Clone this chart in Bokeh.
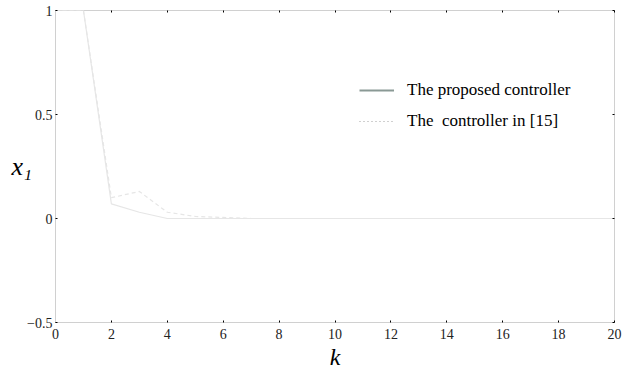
from bokeh.plotting import figure
from bokeh.models import Range1d, LinearAxis, Legend, LegendItem, FixedTicker, ColumnDataSource
from bokeh.embed import file_html
from bokeh.resources import INLINE

k = list(range(0, 21))
proposed = [1, 1, 0.07, 0.03, 0.0] + [0.0] * 16
ref15 = [1, 1, 0.10, 0.13, 0.03, 0.01, 0.005] + [0.0] * 14

legend_labels = ["The proposed controller", "The  controller in [15]"]
x_ticks = list(range(0, 21, 2))
y_ticks = [-0.5, 0, 0.5, 1]

SERIF = "Liberation Serif"
NARROW = "Liberation Sans Narrow"

p = figure(width=624, height=372, output_backend="svg", toolbar_location=None,
           x_range=Range1d(0, 20), y_range=Range1d(-0.5, 1),
           min_border_left=55, min_border_right=10, min_border_top=10, min_border_bottom=47)
p.outline_line_color = "#d0d0d0"
p.xgrid.visible = False
p.ygrid.visible = False
p.background_fill_color = "white"

line_col = "#e6e6e6"
r1 = p.line(k, proposed, line_color=line_col, line_width=1.2)
r2 = p.line(k, ref15, line_color=line_col, line_width=1.2, line_dash="4 3")

nan = float("nan")
src = ColumnDataSource(dict(x=[nan, nan], y=[nan, nan]))
l1 = p.line("x", "y", source=src, line_color="#8a9995", line_width=2)
l2 = p.line("x", "y", source=src, line_color="#a0a0a0", line_width=1, line_dash="1 3")

for ax in (p.xaxis[0], p.yaxis[0]):
    ax.axis_line_color = "#d0d0d0"
    ax.major_tick_in = 2
    ax.major_tick_out = 0
    ax.major_tick_line_color = "black"
    ax.minor_tick_line_color = None
    ax.major_label_text_font = NARROW
    ax.major_label_text_font_size = "14px"
    ax.major_label_text_color = "#222222"
    ax.axis_label_text_font = SERIF
    ax.axis_label_text_font_style = "italic"
    ax.axis_label_text_color = "black"

p.xaxis.ticker = FixedTicker(ticks=x_ticks)
p.yaxis.ticker = FixedTicker(ticks=y_ticks)
p.xaxis.major_label_standoff = 6
p.yaxis.major_label_standoff = 3
p.xaxis.axis_label = "k"
p.xaxis.axis_label_text_font_size = "24px"
p.xaxis.axis_label_standoff = 2
p.yaxis.axis_label = "x\u2081"
p.yaxis.axis_label_text_font_size = "26px"
p.yaxis.axis_label_orientation = "horizontal"
p.yaxis.axis_label_standoff = -8

for loc, tk in (("above", x_ticks), ("right", y_ticks)):
    ax = LinearAxis(ticker=FixedTicker(ticks=tk),
                    major_label_overrides={t: "" for t in tk},
                    axis_line_color=None, major_tick_in=2, major_tick_out=0,
                    major_tick_line_color="black", minor_tick_line_color=None,
                    major_label_standoff=0)
    p.add_layout(ax, loc)

legend = Legend(items=[LegendItem(label=legend_labels[0], renderers=[l1]),
                       LegendItem(label=legend_labels[1], renderers=[l2])],
                location=(304, 191), border_line_color=None, background_fill_alpha=0,
                label_text_font=SERIF, label_text_font_size="17px",
                label_text_color="black", glyph_width=35, label_standoff=13,
                spacing=11, padding=4)
p.add_layout(legend, "center")

open("out.html", "w").write(file_html(p, INLINE))
